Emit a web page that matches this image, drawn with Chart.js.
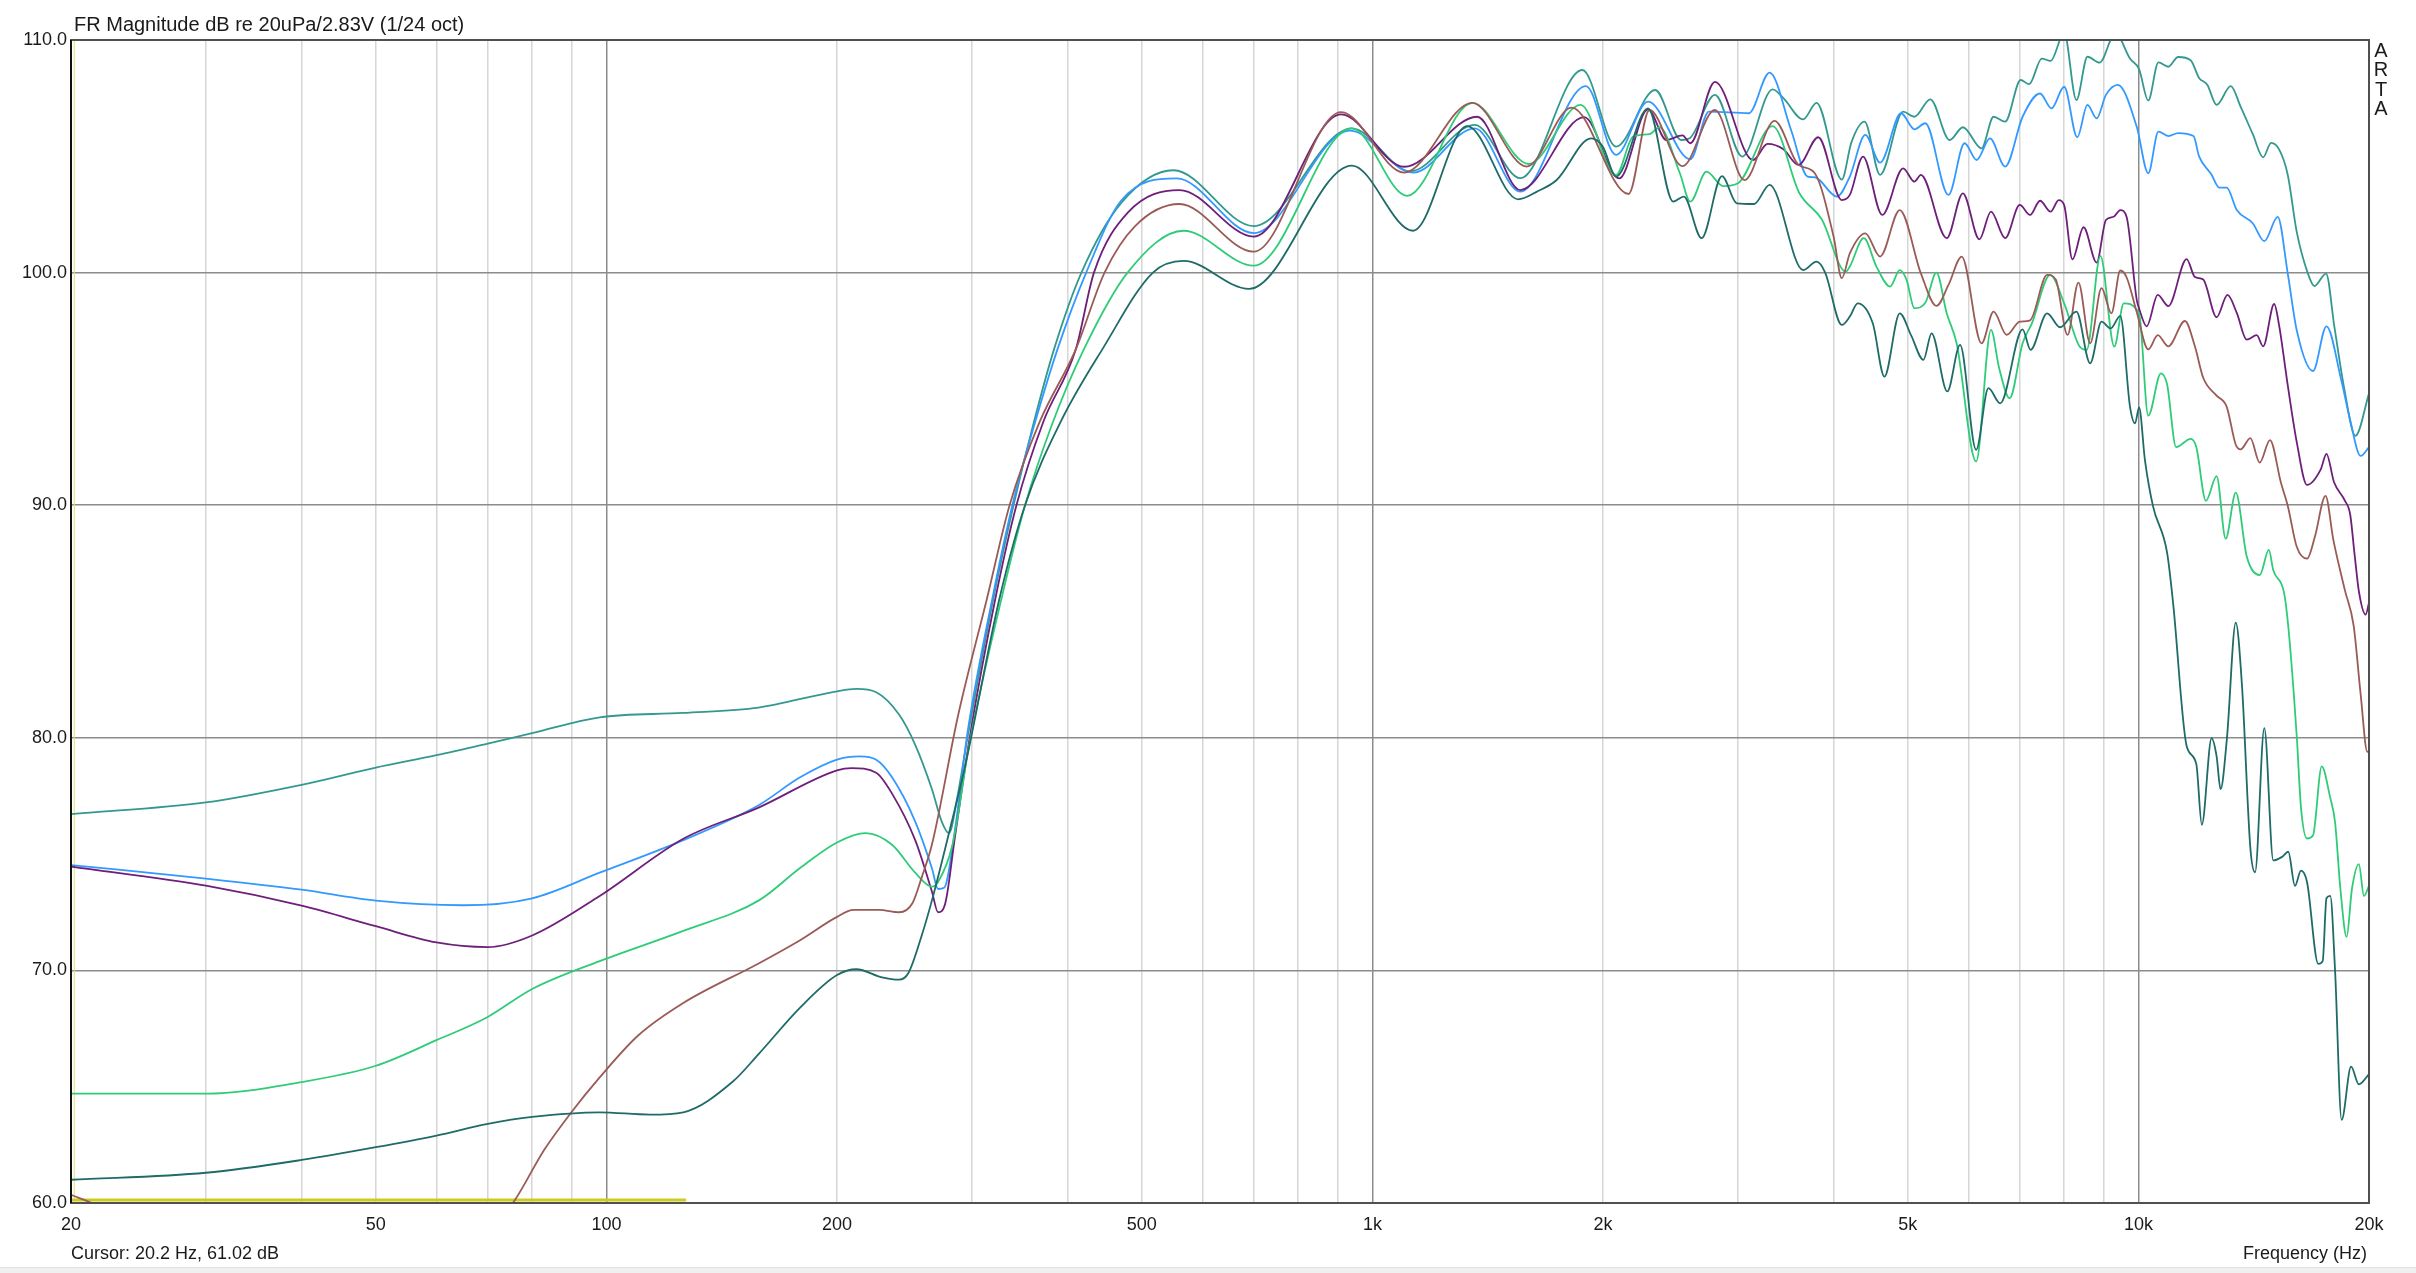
<!DOCTYPE html>
<html><head><meta charset="utf-8">
<script src="https://cdn.jsdelivr.net/npm/chart.js@4/dist/chart.umd.min.js"></script>
<style>
html,body{margin:0;padding:0;background:#fff;overflow:hidden}
canvas{display:block}
</style></head><body>
<canvas id="c" width="2416" height="1273"></canvas>
<script>
// ---- tick definitions ----
const xGridValues = [20,30,40,50,60,70,80,90,100,200,300,400,500,600,700,800,900,1000,2000,3000,4000,5000,6000,7000,8000,9000,10000,20000];
const xMajorValues = [100,1000,10000];
const xLabelValues = [20,50,100,200,500,1000,2000,5000,10000,20000];
const xLabelTexts  = ['20','50','100','200','500','1k','2k','5k','10k','20k'];
const yTickValues = [60,70,80,90,100,110];

// ---- series (frequency Hz / level dB) ----
const tealF = [20,30,40,50,60,70,80,98,126,158,200,212,225,241,253,266,274,280,287,296,320,340,361,384,417,470,550,700,940,1120,1360,1560,1880,2080,2340,2530,2600,2800,3040,3330,3440,3650,3800,4100,4220,4390,4600,4930,5100,5350,5670,5900,6240,6470,6700,7020,7200,7480,7680,8000,8300,8580,8900,9330,9750,10020,10300,10620,10940,11270,11700,12000,12300,12650,13200,13600,14100,14550,14900,15270,15660,16100,16630,16970,17580,18020,18570,19200,20000];
const tealDb = [76.72,77.22,77.98,78.72,79.25,79.75,80.2,80.88,81.07,81.3,82.0,82.1,81.96,81.0,79.7,77.8,76.4,75.9,77.4,80.0,86.0,90.0,93.5,96.7,100.0,103.0,104.4,102.0,106.2,104.35,106.35,104.06,108.71,105.42,107.85,105.7,105.8,107.64,104.99,107.88,107.5,106.59,107.3,104.0,105.6,106.49,104.2,106.92,106.7,107.45,105.7,106.25,105.34,106.7,106.49,108.28,108.1,109.2,109.1,110.3,107.42,109.28,109.03,110.3,109.2,108.75,107.4,109.04,108.85,109.27,109.13,108.37,108.08,107.21,108.02,107.12,105.96,104.96,105.58,105.29,104.23,101.73,100.0,99.42,99.96,97.69,95.0,92.98,94.8];

const blueF = [20,30,40,50,65,80,98,126,158,179,200,214,225,236,253,266,271,276,285,296,320,340,363,388,423,470,555,700,935,1130,1360,1560,1900,2080,2290,2600,2750,3100,3300,3520,3700,3780,4040,4200,4400,4600,4900,5100,5270,5650,5930,6150,6400,6700,7060,7440,7700,8000,8320,8580,8820,9070,9400,9950,10300,10620,10940,11270,11800,12000,12450,12750,13040,13440,14100,14600,15200,15660,16100,16900,17600,18400,18900,19500,20000];
const blueDb = [74.53,73.95,73.47,73.0,72.8,73.1,74.2,75.6,77.1,78.3,79.06,79.2,79.06,78.3,76.4,74.4,73.5,73.55,76.0,80.2,86.2,90.2,93.6,96.7,100.0,103.1,104.05,101.7,106.1,104.3,106.2,103.48,108.02,105.06,107.35,104.87,106.92,106.85,108.6,106.13,104.13,104.1,103.27,104.13,105.92,104.73,106.85,106.16,106.42,103.34,105.56,104.84,105.77,104.56,106.7,107.7,107.06,107.99,105.82,107.21,106.63,107.64,108.07,106.27,104.27,106.06,105.87,106.0,105.87,105.0,104.23,103.65,103.65,102.69,102.12,101.35,102.4,100.0,97.5,95.77,97.69,95.38,93.65,92.12,92.5];

const purpleF = [20,30,40,50,60,70,80,98,126,158,200,209,225,236,253,266,271,277,285,298,322,343,372,410,433,480,560,700,910,1100,1370,1560,1890,2100,2290,2420,2540,2600,2800,3140,3280,3440,3600,3820,4100,4200,4370,4630,4930,5100,5200,5620,5900,6200,6420,6700,7000,7220,7440,7680,7870,8000,8200,8480,8820,9070,9280,9470,9650,9950,10020,10250,10600,10940,11560,11850,12150,12650,13070,13440,13850,14270,14550,15040,15270,15660,16100,16600,17300,17600,18000,18600,18900,19150,19400,19800,20000];
const purpleDb = [74.46,73.64,72.78,71.9,71.2,71.0,71.5,73.2,75.66,77.0,78.6,78.7,78.5,77.6,75.6,73.4,72.5,72.9,75.7,80.0,86.0,90.0,93.6,96.7,100.0,102.6,103.55,101.55,106.8,104.55,106.7,103.55,106.68,104.05,107.02,105.7,105.9,105.56,108.2,104.84,105.53,105.3,104.63,105.82,103.12,103.34,104.99,102.48,104.48,103.91,104.2,101.48,103.41,101.43,102.62,101.48,102.91,102.48,103.09,102.62,103.12,102.9,100.57,101.95,100.43,102.26,102.4,102.69,102.4,98.83,98.46,97.69,99.04,98.56,100.58,99.81,99.7,98.08,99.04,98.27,97.12,97.31,96.83,98.65,97.7,95.19,92.69,90.87,91.54,92.21,91.0,90.2,89.6,87.9,86.3,85.3,85.8];

const brownF = [20,21.6,25,30,40,50,60,70,75.5,83,90,98,110,126,158,179,200,210,227,241,251,258,266,288,314,336,368,410,447,490,560,700,910,1100,1350,1590,1820,2160,2300,2540,2800,3060,3350,3600,3780,4000,4100,4200,4400,4600,4880,5200,5450,5650,5880,6240,6470,6730,7000,7220,7600,7800,8080,8350,8650,8950,9220,9470,9650,9950,10300,10600,10940,11500,11850,12150,12650,13040,13400,13600,14000,14400,14850,15350,15660,16100,16600,17000,17550,17970,18600,19100,19500,19900,20000];
const brownDb = [60.35,59.9,58.5,57.5,56.8,56.7,57.3,58.8,60.0,62.3,63.9,65.4,67.2,68.6,70.3,71.3,72.3,72.6,72.6,72.5,72.9,74.0,75.4,81.0,86.0,90.0,93.6,96.7,100.0,102.0,102.95,100.9,106.9,104.3,107.3,104.56,107.09,103.38,106.99,104.58,106.99,103.98,106.52,104.63,104.27,101.55,99.76,100.83,101.69,100.69,102.69,99.97,98.57,99.47,100.69,96.96,98.32,97.32,97.89,97.95,99.9,99.7,97.32,99.57,96.96,99.33,98.25,100.09,99.8,98.3,96.7,97.31,96.83,97.92,96.83,95.48,94.71,94.23,92.6,92.4,92.88,91.83,92.8,90.96,90.0,88.2,87.7,88.65,90.4,88.5,86.35,84.81,81.9,79.4,79.4];

const greenF = [20,30,40,50,60,70,80,98,126,158,179,200,218,236,253,266,271,283,298,328,352,382,420,479,567,700,940,1110,1350,1600,1870,2080,2190,2300,2370,2520,2600,2730,2870,3000,3330,3610,3860,4150,4200,4380,4550,4740,4880,4980,5100,5270,5450,5620,5790,6140,6420,6580,6790,7060,7260,7670,8000,8380,8560,8920,9300,9570,9950,10050,10300,10700,10900,11200,11700,11900,12250,12650,13000,13400,13850,14400,14800,15000,15500,15700,16100,16300,16600,16900,17350,17790,18060,18350,18700,19000,19400,19700,20000];
const greenDb = [64.7,64.7,65.2,65.9,67.0,68.0,69.2,70.4,71.7,73.0,74.4,75.5,75.9,75.4,74.2,73.6,73.8,75.4,79.8,86.0,90.0,93.5,96.7,100.0,101.8,100.3,106.2,103.3,107.3,104.67,107.21,104.2,105.85,105.95,106.25,104.27,103.05,104.34,103.72,103.84,106.3,103.41,102.29,100.04,100.26,101.48,100.26,99.4,100.11,99.7,98.47,98.7,100.0,98.25,96.96,91.88,97.54,95.89,94.6,96.96,97.82,99.9,98.68,96.82,96.68,100.72,96.82,98.68,98.4,98.0,93.85,95.67,95.2,92.5,92.85,92.5,90.19,91.25,88.56,90.54,87.79,87.0,88.08,87.2,86.2,84.7,80.0,77.02,75.67,75.8,78.77,77.46,76.37,73.52,71.44,73.5,74.57,73.2,73.63];

const darkF = [20,30,40,50,60,70,80,98,114,126,146,158,179,200,212,229,241,248,258,266,280,294,326,352,392,444,517,567,690,940,1130,1330,1550,1640,1740,1930,2000,2080,2290,2470,2550,2690,2860,2990,3150,3300,3650,3800,3900,4100,4200,4300,4500,4660,4880,5050,5240,5370,5630,5850,6140,6370,6600,7060,7230,7600,7900,8300,8650,8950,9200,9470,9750,9900,10020,10200,10450,10900,11100,11560,11900,12100,12460,12650,12800,13050,13400,13650,14000,14200,14600,15000,15400,15690,16010,16300,16600,17170,17400,17600,17800,18060,18420,18950,19400,20000];
const darkDb = [61.0,61.3,61.85,62.4,62.9,63.4,63.7,63.9,63.8,63.9,65.2,66.4,68.4,69.8,70.05,69.7,69.6,69.9,71.5,73.0,75.9,78.8,86.0,90.0,93.6,96.7,100.0,100.5,99.3,104.6,101.8,106.3,103.15,103.48,103.98,105.77,105.4,104.13,107.06,103.05,103.27,101.48,104.15,102.98,102.95,103.77,100.11,100.47,100.0,97.75,98.11,98.68,97.82,95.53,98.25,97.3,96.25,97.39,94.89,96.89,92.38,95.03,94.38,97.56,96.68,98.25,97.65,98.32,96.1,97.89,97.6,98.14,94.24,93.52,94.2,91.92,89.95,87.96,85.78,79.65,78.88,76.26,79.98,79.2,77.79,80.0,84.95,82.28,75.27,74.22,80.42,74.73,74.88,75.1,73.63,74.29,73.8,70.28,70.4,73.1,73.2,70.0,63.57,65.86,65.1,65.54];

// yellow cursor / reference marks
const cursorF = [20.2,20.2];
const cursorDb = [60,110];
const refF = [20,127];
const refDb = [60.13,60.13];

const toPts = (f,d) => f.map((x,i)=>({x:x,y:d[i]}));

const series = [
  {f:darkF, d:darkDb, c:'#1e6b68'},
  {f:brownF, d:brownDb, c:'#9a5b57'},
  {f:greenF, d:greenDb, c:'#2fcc78'},
  {f:purpleF, d:purpleDb, c:'#6e1f7a'},
  {f:blueF, d:blueDb, c:'#3399ff'},
  {f:tealF, d:tealDb, c:'#33998f'}
];

const datasets = series.map(s=>({
  data: toPts(s.f,s.d), borderColor:s.c, borderWidth:1.8, pointRadius:0,
  cubicInterpolationMode:'monotone', fill:false
}));
datasets.push({data:toPts(refF,refDb), borderColor:'#cccc1e', borderWidth:3, pointRadius:0, tension:0});
datasets.push({data:toPts(cursorF,cursorDb), borderColor:'rgba(225,225,120,0.85)', borderWidth:1.2, pointRadius:0, tension:0});

const FONT = '"Liberation Sans", Arial, sans-serif';

const decor = {
  id:'decor',
  afterDraw(chart){
    const ctx = chart.ctx, a = chart.chartArea;
    ctx.save();
    // frame
    ctx.strokeStyle = '#505050'; ctx.lineWidth = 2;
    ctx.strokeRect(a.left, a.top, a.right-a.left, a.bottom-a.top);
    ctx.strokeStyle = '#111'; ctx.beginPath(); ctx.moveTo(a.left, a.top); ctx.lineTo(a.left, a.bottom); ctx.stroke();
    // texts
    ctx.fillStyle = '#1a1a1a';
    ctx.textBaseline = 'middle';
    ctx.font = '20px ' + FONT;
    ctx.textAlign = 'left';
    ctx.fillText('FR Magnitude dB re 20uPa/2.83V (1/24 oct)', 74, 25);
    ctx.font = '18px ' + FONT;
    ctx.fillText('Cursor: 20.2 Hz, 61.02 dB', 71, 1254);
    ctx.textAlign = 'right';
    ctx.fillText('Frequency (Hz)', 2367, 1254);
    ctx.textAlign = 'center';
    ctx.font = '20px ' + FONT;
    ['A','R','T','A'].forEach((ch,i)=>ctx.fillText(ch, 2381, 51 + i*19.5));
    // bottom status strip
    ctx.fillStyle = '#f0f0f0'; ctx.fillRect(0,1268,2416,5);
    ctx.fillStyle = '#e2e2e2'; ctx.fillRect(0,1267,2416,1);
    ctx.restore();
  }
};

new Chart(document.getElementById('c').getContext('2d'), {
  type:'line',
  data:{datasets:datasets},
  options:{
    responsive:false, animation:false, devicePixelRatio:1,
    layout:{padding:{left:0, top:40, right:47, bottom:0}},
    plugins:{legend:{display:false}, tooltip:{enabled:false}, title:{display:false}},
    scales:{
      x:{
        type:'logarithmic', min:20, max:20000,
        afterBuildTicks:s=>{ s.ticks = xGridValues.map(v=>({value:v})); },
        afterFit:s=>{ s.height = 70; },
        border:{display:false},
        grid:{drawTicks:false, lineWidth:1.5,
          color:c=> (c.tick && xMajorValues.includes(c.tick.value)) ? '#8c8c8c' : '#d6d6d6'},
        ticks:{autoSkip:false, maxRotation:0, minRotation:0, padding:11, color:'#1a1a1a',
          font:{family:FONT, size:18},
          callback:(v)=>{ const i = xLabelValues.indexOf(v); return i>=0 ? xLabelTexts[i] : ''; }}
      },
      y:{
        min:60, max:110,
        afterBuildTicks:s=>{ s.ticks = yTickValues.map(v=>({value:v})); },
        afterFit:s=>{ s.width = 71; },
        border:{display:false},
        grid:{drawTicks:false, lineWidth:1.5, color:'#8c8c8c'},
        ticks:{padding:4, color:'#1a1a1a', font:{family:FONT, size:18},
          callback:(v)=> Number(v).toFixed(1)}
      }
    }
  },
  plugins:[decor]
});
</script>
</body></html>
